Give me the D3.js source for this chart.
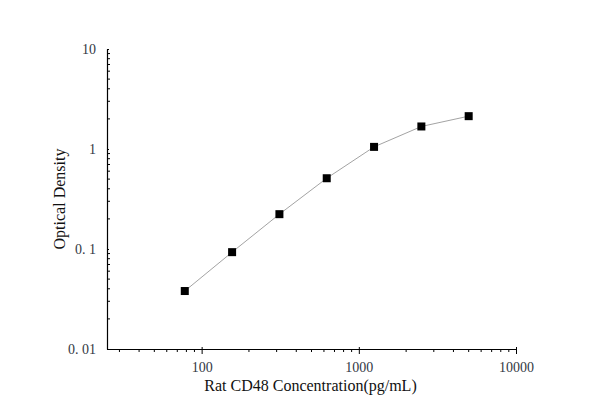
<!DOCTYPE html>
<html lang="en">
<head>
    <meta charset="UTF-8">
    <title>Rat CD48 standard curve</title>
    <style>
        body { margin:0; background:#fff; }
        .axis .domain { stroke:#000; stroke-width:1.2; }
        .axis line { stroke:#000; }
    </style>
</head>
<body>
    <svg width="600" height="419"></svg>
    <script src="https://d3js.org/d3.v7.min.js"></script>
    <script>
        // standard points
        var concentration = [78.125, 156.25, 312.5, 625, 1250, 2500, 5000];
        var density = [0.038, 0.093, 0.223, 0.51, 1.05, 1.68, 2.13];

        var xTicks = [100, 1000, 10000];
        var yTicks = [0.01, 0.1, 1, 10];
        var yTickLabels = ["0. 01", "0. 1", "1", "10"];

        var serif = "'Liberation Serif', 'Times New Roman', serif";

        var svg = d3.select("svg"),
            margin = {top:49, right:84, bottom:70, left:107},
            width = +svg.attr("width") - margin.left - margin.right,
            height = +svg.attr("height") - margin.top - margin.bottom,
            g = svg.append("g").attr("transform", "translate(" + margin.left + "," + margin.top + ")");

        var x = d3.scaleLog().domain([25, 10000]).range([0, width]);
        var y = d3.scaleLog().domain([0.01, 10]).range([height, 0]);

        // minor ticks: 2..9 of every decade inside the domain
        function minors(scale) {
            var d = scale.domain();
            return scale.ticks().filter(function(t){
                var m = t / Math.pow(10, Math.floor(Math.log10(t) + 1e-9));
                return Math.round(m) !== 1 && t >= d[0] && t <= d[1];
            });
        }

        // x axis
        var xa = g.append("g")
            .attr("class", "axis")
            .attr("transform", "translate(0," + height + ")");
        xa.call(d3.axisBottom(x).tickValues(xTicks).tickFormat(d3.format("d")).tickSizeInner(5).tickSizeOuter(0).tickPadding(8));
        xa.attr("font-family", serif);
        xa.selectAll(".tick line").attr("y1", -2);
        xa.selectAll(".tick text").attr("font-size", 14).attr("fill", "#333844");
        xa.selectAll(".minor")
            .data(minors(x))
            .enter().append("line")
            .attr("class", "minor")
            .attr("x1", function(d){ return x(d); })
            .attr("x2", function(d){ return x(d); })
            .attr("y1", 0).attr("y2", 3)
            .attr("stroke", "#000");

        // y axis
        var ya = g.append("g").attr("class", "axis");
        ya.call(d3.axisLeft(y).tickValues(yTicks).tickFormat(function(d, i){ return yTickLabels[i]; }).tickSizeInner(6).tickSizeOuter(0).tickPadding(5));
        ya.attr("font-family", serif);
        ya.selectAll(".tick line").attr("x2", 2);
        ya.selectAll(".tick text").attr("font-size", 14).attr("fill", "#333844");
        ya.selectAll(".minor")
            .data(minors(y))
            .enter().append("line")
            .attr("class", "minor")
            .attr("y1", function(d){ return y(d); })
            .attr("y2", function(d){ return y(d); })
            .attr("x1", 0).attr("x2", 3)
            .attr("stroke", "#000");

        // axis titles
        g.append("text")
            .attr("x", width / 2 - 1)
            .attr("y", height + 42)
            .attr("text-anchor", "middle")
            .attr("font-family", serif)
            .attr("font-size", 16)
            .attr("fill", "#111")
            .text("Rat CD48 Concentration(pg/mL)");

        g.append("text")
            .attr("transform", "translate(-42," + (height / 2) + ") rotate(-90)")
            .attr("text-anchor", "middle")
            .attr("font-family", serif)
            .attr("font-size", 16)
            .attr("fill", "#111")
            .text("Optical Density");

        var pts = concentration.map(function(c, i){ return {c:c, od:density[i]}; });

        g.append("path")
            .datum(pts)
            .attr("fill", "none")
            .attr("stroke", "#999")
            .attr("stroke-width", 0.9)
            .attr("d", d3.line().x(function(d){ return x(d.c); }).y(function(d){ return y(d.od); }));

        g.selectAll(".pt")
            .data(pts)
            .enter().append("rect")
            .attr("class", "pt")
            .attr("x", function(d){ return x(d.c) - 4; })
            .attr("y", function(d){ return y(d.od) - 4; })
            .attr("width", 8)
            .attr("height", 8)
            .attr("fill", "#000");
    </script>
</body>
</html>
